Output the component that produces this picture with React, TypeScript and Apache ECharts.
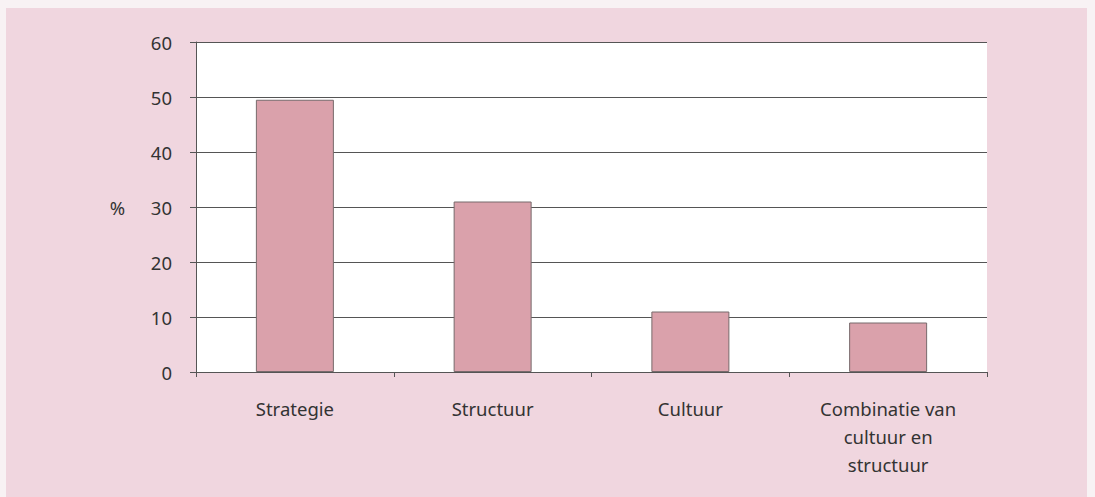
import React, { useEffect, useRef } from "react";
import * as echarts from "echarts";

const categories = ["Strategie", "Structuur", "Cultuur", "Combinatie van\ncultuur en\nstructuur"];
const values = [49.5, 31, 11, 9];
const yTicks = [0, 10, 20, 30, 40, 50, 60];
const yName = "%";

export default function App() {
  const ref = useRef<HTMLDivElement>(null);
  useEffect(() => {
    const chart = echarts.init(ref.current!, null, { renderer: "svg" });
    chart.setOption({
      animation: false,
      backgroundColor: "#f8f2f4",
      graphic: [
        {
          type: "rect",
          z: -10,
          silent: true,
          shape: { x: 6, y: 8, width: 1081, height: 500 },
          style: { fill: "#f0d6df" },
        },
      ],
      grid: {
        left: 196,
        right: 108,
        top: 42,
        bottom: 125,
        show: true,
        backgroundColor: "#ffffff",
        borderWidth: 0,
      },
      xAxis: {
        type: "category",
        data: categories,
        axisLine: { show: true, lineStyle: { color: "#555", width: 1 } },
        axisTick: { show: true, length: 5, lineStyle: { color: "#555" } },
        axisLabel: {
          margin: 22,
          fontSize: 18.5,
          lineHeight: 28,
          color: "#333",
          fontFamily: "Noto Sans",
          interval: 0,
        },
      },
      yAxis: {
        type: "value",
        min: yTicks[0],
        max: yTicks[yTicks.length - 1],
        interval: 10,
        name: yName,
        nameLocation: "middle",
        nameRotate: 0,
        nameGap: 71,
        nameTextStyle: { fontSize: 18.5, color: "#333", fontFamily: "Noto Sans" },
        axisLine: { show: true, lineStyle: { color: "#555", width: 1 } },
        axisTick: { show: true, length: 6, lineStyle: { color: "#555" } },
        axisLabel: { fontSize: 18.5, color: "#333", margin: 24, fontFamily: "Noto Sans" },
        splitLine: { show: true, lineStyle: { color: "#555", width: 1 } },
      },
      series: [
        {
          type: "bar",
          data: values,
          barWidth: 78,
          itemStyle: { color: "#daa1ab", borderColor: "#776a6c", borderWidth: 1 },
        },
      ],
    });
    return () => chart.dispose();
  }, []);
  return (
    <div
      ref={ref}
      style={{ position: "absolute", left: 0, top: 0, width: 1095, height: 497 }}
    />
  );
}
